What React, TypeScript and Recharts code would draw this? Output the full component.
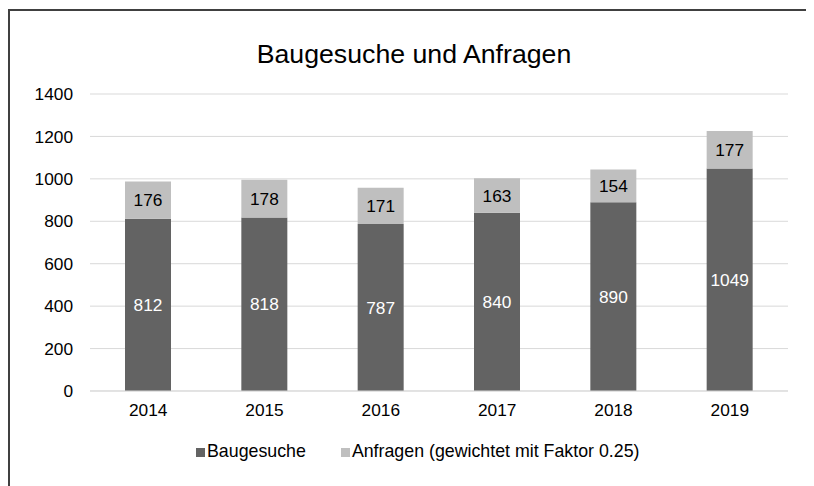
import React from "react";
import {
  BarChart,
  Bar,
  XAxis,
  YAxis,
  CartesianGrid,
  Legend,
  LabelList,
  Customized,
} from "recharts";

const years = ["2014", "2015", "2016", "2017", "2018", "2019"];
const baugesuche = [812, 818, 787, 840, 890, 1049];
const anfragen = [176, 178, 171, 163, 154, 177];
const yTicks = [0, 200, 400, 600, 800, 1000, 1200, 1400];

const TITLE = "Baugesuche und Anfragen";
const NAME_A = "Baugesuche";
const NAME_B = "Anfragen (gewichtet mit Faktor 0.25)";
const COLOR_A = "#636363";
const COLOR_B = "#bfbfbf";
const FONT = "'Liberation Sans', Arial, sans-serif";

const data = years.map((y, i) => ({
  year: y,
  baugesuche: baugesuche[i],
  anfragen: anfragen[i],
}));

const LegendContent = () => (
  <div
    style={{
      display: "flex",
      alignItems: "baseline",
      fontFamily: FONT,
      fontSize: 17.8,
      color: "#000",
      whiteSpace: "nowrap",
      lineHeight: "20px",
    }}
  >
    <span style={{ display: "inline-block", width: 9, height: 9, background: COLOR_A, marginRight: 2 }} />
    <span>{NAME_A}</span>
    <span style={{ display: "inline-block", width: 9, height: 9, background: COLOR_B, marginLeft: 35, marginRight: 2 }} />
    <span>{NAME_B}</span>
  </div>
);

export default function App() {
  return (
    <div style={{ position: "relative", width: 806, height: 478, overflow: "hidden", background: "#fff" }}>
      <div
        style={{
          position: "absolute",
          left: 0,
          top: 1,
          width: 900,
          height: 600,
          border: "2px solid #404040",
          boxSizing: "border-box",
        }}
      />
      <div style={{ position: "absolute", left: 0, top: 0 }}>
        <BarChart
          width={806}
          height={478}
          data={data}
          margin={{ top: 86, right: 26, left: 0, bottom: 65 }}
        >
          <CartesianGrid vertical={false} stroke="#d9d9d9" strokeWidth={1} />
          <XAxis
            dataKey="year"
            tickLine={false}
            axisLine={{ stroke: "#d9d9d9" }}
            tickMargin={7}
            tick={{ fill: "#000", fontSize: 17.3, fontFamily: FONT }}
            height={30}
          />
          <YAxis
            domain={[0, 1400]}
            ticks={yTicks}
            tickLine={false}
            axisLine={false}
            tickMargin={11}
            width={82}
            tick={{ fill: "#000", fontSize: 17.3, fontFamily: FONT }}
          />
          <Bar dataKey="baugesuche" name={NAME_A} stackId="s" fill={COLOR_A} barSize={46} isAnimationActive={false}>
            <LabelList dataKey="baugesuche" position="center" fill="#ffffff" fontSize={17.3} fontFamily={FONT} />
          </Bar>
          <Bar dataKey="anfragen" name={NAME_B} stackId="s" fill={COLOR_B} barSize={46} isAnimationActive={false}>
            <LabelList dataKey="anfragen" position="center" fill="#000000" fontSize={17.3} fontFamily={FONT} />
          </Bar>
          <Legend
            layout="horizontal"
            verticalAlign="middle"
            align="center"
            content={<LegendContent />}
            wrapperStyle={{ position: "absolute", top: 433, left: 188, width: "auto" }}
          />
          <Customized
            component={() => (
              <text
                x={406}
                y={55}
                textAnchor="middle"
                fontSize={26.7}
                fontFamily={FONT}
                fill="#000"
              >
                {TITLE}
              </text>
            )}
          />
        </BarChart>
      </div>
    </div>
  );
}
